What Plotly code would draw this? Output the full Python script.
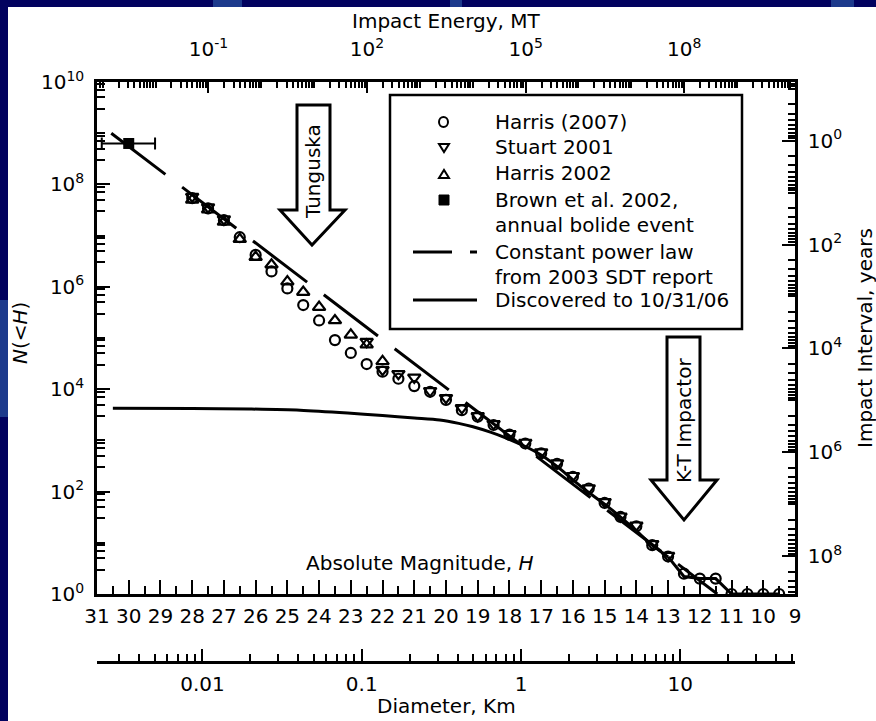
import numpy as np
import plotly.graph_objects as go

# ---------------- data ----------------
H_harris07 = [28, 27.5, 27, 26.5, 26, 25.5, 25, 24.5, 24, 23.5, 23, 22.5, 22, 21.5, 21, 20.5, 20,
              19.5, 19, 18.5, 18, 17.5, 17, 16.5, 16, 15.5, 15, 14.5, 14, 13.5, 13, 12.5, 12, 11.5,
              11, 10.5, 10, 9.5]
N_harris07 = [5.4e7, 3.4e7, 2.0e7, 9.3e6, 4.2e6, 2.0e6, 9.3e5, 4.4e5, 2.2e5, 9.1e4,
              5.1e4, 3.1e4, 2.2e4, 1.6e4, 1.15e4, 8900, 6200, 3900, 2900, 2000,
              1300, 870, 560, 350, 195, 115, 60, 32, 21, 9,
              5.4, 2.5, 2, 2, 1, 1, 1, 1]

H_stuart = [28, 27.5, 27, 22.5, 22, 21.5, 21, 20.5, 20, 19.5, 19, 18.5, 18, 17.5, 17, 16.5, 16,
            15.5, 15, 14.5, 14, 13.5, 13]
N_stuart = [5.8e7, 3.6e7, 2.1e7, 8.5e4, 2.4e4, 2.0e4, 1.7e4, 9300, 6800, 4300, 3000, 2100, 1350,
            910, 590, 360, 204, 117, 63, 33, 22, 9.5, 5.6]

H_harris02 = [28, 27.5, 27, 26.5, 26, 25.5, 25, 24.5, 24, 23.5, 23, 22.5, 22]
N_harris02 = [5.0e7, 3.2e7, 1.86e7, 8.5e6, 3.8e6, 2.7e6, 1.26e6, 7.9e5, 4.0e5, 2.2e5, 1.15e5,
              7.4e4, 3.5e4]

H_brown = [30.0]
N_brown = [6.3e8]
H_brown_err_faint = [0.85]   # towards fainter H (left)
H_brown_err_bright = [0.83]  # towards brighter H (right)

H_power = [30.55, 11.45]
N_power = [1.0e9, 1.0]

# discovered curve: smooth part then the stepped bright end
H_disc = [30.5, 28.0, 26.2, 24.6, 23.1, 22.0, 21.0, 20.2, 19.6, 19.15, 18.6, 18.1, 17.5, 17.0,
          16.5, 16.0, 15.5, 14.9, 14.1, 13.5, 13.0, 12.5, 12.0, 11.5, 11.0, 9.5]
N_disc = [4240, 4200, 4100, 3900, 3430, 3050, 2740, 2500, 2150, 1850, 1450, 1110, 760, 520,
          310, 170, 96, 51, 19.5, 9, 5.3, 2.2, 2, 2, 1, 1]
N_SMOOTH = 21  # first points drawn as a smooth curve

H_tick_vals = list(range(31, 8, -1))
H_minor_vals = [h + 0.5 for h in range(9, 31)]
E_tick_vals = [1e-1, 1e2, 1e5, 1e8]
E_tick_text = ["10<sup>-1</sup>", "10<sup>2</sup>", "10<sup>5</sup>", "10<sup>8</sup>"]
N_tick_exps = [0, 2, 4, 6, 8, 10]
T_tick_exps = [0, 2, 4, 6, 8]
D_tick_vals = [0.01, 0.1, 1, 10]
D_tick_text = ["0.01", "0.1", "1", "10"]

# ---------------- geometry (pixels) ----------------
W, HT = 876, 721
PL, PR, PT, PB = 97, 795, 82, 594
YD = 662  # diameter axis line


def px(x):
    return (x - PL) / (PR - PL)


def py(y):
    return (YD - y) / (YD - PT)


FONT = "DejaVu Sans"
FS = 20

# minor tick lists
E_minor = [m * 10.0 ** k for k in range(-4, 11) for m in range(1, 10)
           if m * 10.0 ** k not in E_tick_vals and -3.107 < np.log10(m * 10.0 ** k) < 10.095]
N_minor = [m * 10.0 ** k for k in range(0, 10) for m in (3, 5, 7, 9)]
N_minor += [10.0 ** k for k in (1, 3, 5, 7, 9)]
T_minor = [m * 10.0 ** k for k in range(-2, 9) for m in range(1, 10)
           if not (m == 1 and k in T_tick_exps) and -1.131 < np.log10(m * 10.0 ** k) < 8.734]
D_minor = [m * 10.0 ** k for k in range(-3, 2) for m in range(2, 10)
           if -2.662 < np.log10(m * 10.0 ** k) < 1.72]

fig = go.Figure()

fig.add_trace(go.Scatter(x=H_power, y=N_power, mode="lines",
                         line=dict(color="black", width=3, dash="68px,21px"),
                         xaxis="x", yaxis="y", hoverinfo="skip"))
fig.add_trace(go.Scatter(x=H_disc[:N_SMOOTH], y=N_disc[:N_SMOOTH], mode="lines",
                         line=dict(color="black", width=3, shape="spline", smoothing=0.8),
                         xaxis="x", yaxis="y", hoverinfo="skip"))
fig.add_trace(go.Scatter(x=H_disc[N_SMOOTH - 1:], y=N_disc[N_SMOOTH - 1:], mode="lines",
                         line=dict(color="black", width=3),
                         xaxis="x", yaxis="y", hoverinfo="skip"))
fig.add_trace(go.Scatter(x=H_harris02, y=N_harris02, mode="markers",
                         marker=dict(symbol="triangle-up-open", size=11, color="black",
                                     line=dict(width=2.2, color="black")),
                         xaxis="x", yaxis="y"))
fig.add_trace(go.Scatter(x=H_stuart, y=N_stuart, mode="markers",
                         marker=dict(symbol="triangle-down-open", size=11, color="black",
                                     line=dict(width=2.2, color="black")),
                         xaxis="x", yaxis="y"))
fig.add_trace(go.Scatter(x=H_harris07, y=N_harris07, mode="markers",
                         marker=dict(symbol="circle-open", size=10, color="black",
                                     line=dict(width=2.2, color="black")),
                         xaxis="x", yaxis="y"))
fig.add_trace(go.Scatter(x=H_brown, y=N_brown, mode="markers",
                         marker=dict(symbol="square", size=11, color="black"),
                         error_x=dict(type="data", symmetric=False, array=H_brown_err_faint,
                                      arrayminus=H_brown_err_bright, thickness=2, width=6,
                                      color="black"),
                         xaxis="x", yaxis="y"))
# placeholders so the secondary axes are drawn
fig.add_trace(go.Scatter(x=[], y=[], xaxis="x2", yaxis="y", hoverinfo="skip"))
fig.add_trace(go.Scatter(x=[], y=[], xaxis="x3", yaxis="y", hoverinfo="skip"))
fig.add_trace(go.Scatter(x=[], y=[], xaxis="x", yaxis="y2", hoverinfo="skip"))

tickfont = dict(family=FONT, size=FS, color="black")
common = dict(showline=True, linecolor="black", linewidth=2.5, showgrid=False, zeroline=False,
              ticks="inside", tickcolor="black", tickwidth=2, tickfont=tickfont, mirror=False)


def minor(vals, ln):
    return dict(tickmode="array", tickvals=vals, ticks="inside", ticklen=ln, tickwidth=2,
                tickcolor="black", showgrid=False)


fig.update_layout(
    width=W, height=HT, autosize=False,
    margin=dict(l=PL, r=W - PR, t=PT, b=HT - YD, pad=0),
    paper_bgcolor="white", plot_bgcolor="white", showlegend=False,
    font=dict(family=FONT, size=FS, color="black"),
    xaxis=dict(**common, range=[31, 9], domain=[0, 1], anchor="y",
               tickmode="array", tickvals=H_tick_vals, ticktext=[str(v) for v in H_tick_vals],
               ticklen=14, minor=minor(H_minor_vals, 8), ticklabelstandoff=2),
    xaxis2=dict(**common, type="log", overlaying="x", anchor="y", side="top",
                range=[-3.107, 10.095], tickmode="array", tickvals=E_tick_vals,
                ticktext=E_tick_text, ticklen=11, minor=minor(E_minor, 6),
                ticklabelstandoff=15),
    xaxis3=dict(**common, type="log", overlaying="x", anchor="free", position=0, side="bottom",
                range=[-2.662, 1.720], tickmode="array", tickvals=D_tick_vals,
                ticktext=D_tick_text, ticklen=12, minor=minor(D_minor, 7),
                ticklabelstandoff=3),
    yaxis=dict(**common, type="log", range=[0, 10], domain=[py(PB), 1], anchor="x",
               tickmode="array", tickvals=[10.0 ** k for k in N_tick_exps],
               ticktext=["10<sup>%d</sup>" % k for k in N_tick_exps],
               ticklen=13, minor=minor(N_minor, 8), ticklabelstandoff=6),
    yaxis2=dict(**common, type="log", overlaying="y", anchor="x", side="right",
                range=[8.734, -1.131], tickmode="array",
                tickvals=[10.0 ** k for k in T_tick_exps],
                ticktext=["10<sup>%d</sup>" % k for k in T_tick_exps],
                ticklen=13, minor=minor(T_minor, 7), ticklabelstandoff=6),
)

shapes = []
# slide background strips
navy = "#02025f"
light = "#1d3a8c"


def strip(x0, x1, y0, y1, col):
    shapes.append(dict(type="rect", xref="paper", yref="paper", x0=px(x0), x1=px(x1),
                       y0=py(y1), y1=py(y0), fillcolor=col, line=dict(width=0), layer="below"))


strip(0, W, 0, 7, navy)
strip(0, 8, 0, HT, navy)
strip(0, 8, 300, 417, light)
strip(213, 242, 0, 7, light)
strip(450, 462, 0, 7, light)
strip(831, 854, 0, 7, light)


def path(pts):
    return "M " + " L ".join("%.5f,%.5f" % (px(a), py(b)) for a, b in pts) + " Z"


# arrows
shapes.append(dict(type="path", xref="paper", yref="paper",
                   path=path([(297, 105), (330, 105), (330, 210), (345, 210), (312, 245),
                              (280, 210), (297, 210)]),
                   line=dict(color="black", width=3), fillcolor="white"))
shapes.append(dict(type="path", xref="paper", yref="paper",
                   path=path([(667, 337), (700, 337), (700, 480), (717, 480), (684, 520),
                              (651, 480), (667, 480)]),
                   line=dict(color="black", width=3), fillcolor="white"))

# legend box and symbols
shapes.append(dict(type="rect", xref="paper", yref="paper", x0=px(390), x1=px(742),
                   y0=py(329), y1=py(95), line=dict(color="black", width=2.5), fillcolor="white"))
shapes.append(dict(type="circle", xref="paper", yref="paper", x0=px(439), x1=px(448),
                   y0=py(127), y1=py(117), line=dict(color="black", width=2)))
shapes.append(dict(type="path", xref="paper", yref="paper",
                   path=path([(439, 144), (449, 144), (444, 152)]),
                   line=dict(color="black", width=2)))
shapes.append(dict(type="path", xref="paper", yref="paper",
                   path=path([(439, 178), (449, 178), (444, 170)]),
                   line=dict(color="black", width=2)))
shapes.append(dict(type="rect", xref="paper", yref="paper", x0=px(439), x1=px(449),
                   y0=py(205), y1=py(195), fillcolor="black", line=dict(color="black", width=1)))
for a, b in [(413, 452), (470, 477)]:
    shapes.append(dict(type="line", xref="paper", yref="paper", x0=px(a), x1=px(b),
                       y0=py(252), y1=py(252), line=dict(color="black", width=3)))
shapes.append(dict(type="line", xref="paper", yref="paper", x0=px(413), x1=px(477),
                   y0=py(300), y1=py(300), line=dict(color="black", width=3)))

annotations = []


def ann(text, x, y, **kw):
    d = dict(text=text, x=px(x), y=py(y), xref="paper", yref="paper", showarrow=False,
             font=dict(family=FONT, size=FS, color="black"), xanchor="center", yanchor="middle")
    d.update(kw)
    annotations.append(d)


legend_rows = [("Harris (2007)", 122), ("Stuart 2001", 147), ("Harris 2002", 173),
               ("Brown et al. 2002,", 200), ("annual bolide event", 225),
               ("Constant power law", 252), ("from 2003 SDT report", 277),
               ("Discovered to 10/31/06", 300)]
for t, y in legend_rows:
    ann(t, 493, y, xanchor="left")

ann("Impact Energy, MT", 446, 21)
ann("<i>N</i>(&lt;<i>H</i>)", 20, 333, textangle=-90)
ann("Impact Interval, years", 865, 338, textangle=-90)
ann("Absolute Magnitude, <i>H</i>", 420, 563)
ann("Diameter, Km", 446, 706)
ann("Tunguska", 313, 172, textangle=-90)
ann("K-T Impactor", 684, 421, textangle=-90)

fig.update_layout(shapes=shapes, annotations=annotations)

fig.write_html("out.html", config={"displayModeBar": False},
               post_script="document.body.style.margin='0px';"
                           "document.body.style.overflow='hidden';")
